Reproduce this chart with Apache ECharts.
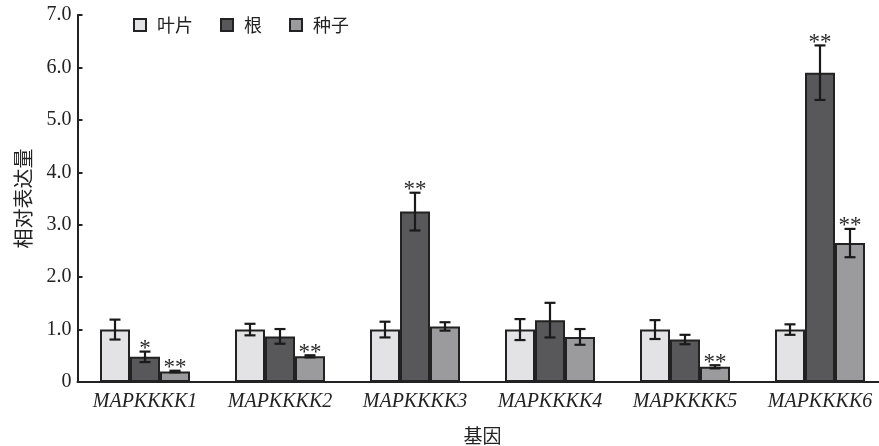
<!DOCTYPE html>
<html>
<head>
<meta charset="utf-8">
<script src="https://cdn.jsdelivr.net/npm/echarts@6/dist/echarts.min.js"></script>
<style>
  html, body { margin: 0; padding: 0; background: #fff; }
  #chart { width: 879px; height: 446px; }
</style>
</head>
<body>
<div id="chart"></div>
<script>
// Genes on the x axis
const categories = ['MAPKKKK1', 'MAPKKKK2', 'MAPKKKK3', 'MAPKKKK4', 'MAPKKKK5', 'MAPKKKK6'];
const seriesNames = ['叶片', '根', '种子'];

// Relative expression (mean) per tissue
const leafValues = [1.0, 1.0, 1.0, 1.0, 1.0, 1.0];
const rootValues = [0.48, 0.87, 3.25, 1.18, 0.81, 5.90];
const seedValues = [0.20, 0.49, 1.06, 0.86, 0.29, 2.65];

// Standard deviations
const leafErrors = [0.19, 0.11, 0.15, 0.20, 0.18, 0.10];
const rootErrors = [0.10, 0.14, 0.36, 0.33, 0.09, 0.52];
const seedErrors = [0.015, 0.02, 0.08, 0.15, 0.03, 0.27];

// Significance marks
const leafMarks = ['', '', '', '', '', ''];
const rootMarks = ['*', '', '**', '', '', '**'];
const seedMarks = ['**', '**', '', '', '**', '**'];

// Y axis tick values
const yTicks = [0, 1, 2, 3, 4, 5, 6, 7];

const colors = ['#e3e3e5', '#58585a', '#9b9b9d'];
const edge = '#222222';
const BAR_W = 30;

const chart = echarts.init(document.getElementById('chart'), null, { renderer: 'canvas' });

const groups = [
  { values: leafValues, errors: leafErrors, marks: leafMarks },
  { values: rootValues, errors: rootErrors, marks: rootMarks },
  { values: seedValues, errors: seedErrors, marks: seedMarks }
];

const barSeries = groups.map((g, i) => ({
  name: seriesNames[i],
  type: 'bar',
  data: g.values,
  barWidth: BAR_W,
  barGap: '0%',
  itemStyle: { color: colors[i], borderColor: edge, borderWidth: 2 },
  emphasis: { disabled: true },
  z: 2
}));

// Error bars and significance asterisks drawn at each bar's position
const errorSeries = groups.map((g, i) => ({
  type: 'custom',
  name: seriesNames[i] + '-err',
  data: g.values.map((v, k) => [k, v, g.errors[k]]),
  z: 5,
  silent: true,
  renderItem: function (params, api) {
    const k = api.value(0);
    const v = api.value(1);
    const e = api.value(2);
    const off = (i - 1) * BAR_W;
    const top = api.coord([k, v + e]);
    const bot = api.coord([k, v - e]);
    const x = top[0] + off;
    const cap = 5.5;
    const style = { stroke: '#1a1a1a', lineWidth: 2.2 };
    const children = [
      { type: 'line', shape: { x1: x, y1: top[1], x2: x, y2: bot[1] }, style: style },
      { type: 'line', shape: { x1: x - cap, y1: top[1], x2: x + cap, y2: top[1] }, style: style },
      { type: 'line', shape: { x1: x - cap, y1: bot[1], x2: x + cap, y2: bot[1] }, style: style }
    ];
    const mark = g.marks[k];
    if (mark) {
      children.push({
        type: 'text',
        style: {
          text: mark,
          x: x,
          y: top[1] + 9,
          align: 'center',
          verticalAlign: 'bottom',
          font: '23px "Liberation Serif", serif',
          fill: '#2a2a2a'
        }
      });
    }
    return { type: 'group', children: children };
  }
}));

chart.setOption({
  animation: false,
  backgroundColor: '#ffffff',
  legend: {
    data: seriesNames,
    left: 128,
    top: 11,
    icon: 'rect',
    itemWidth: 12,
    itemHeight: 12,
    itemGap: 27,
    itemStyle: { borderColor: edge, borderWidth: 2 },
    textStyle: { fontFamily: '"Noto Sans CJK SC"', fontSize: 18, color: '#222', padding: [0, 0, 0, 6] }
  },
  // the category band runs slightly past the right edge of the canvas
  grid: { left: 77.5, top: 15, right: -8.5, bottom: 64, containLabel: false, outerBoundsMode: 'none' },
  xAxis: {
    type: 'category',
    data: categories,
    name: '基因',
    nameLocation: 'middle',
    nameGap: 44,
    nameTextStyle: { fontFamily: '"Noto Sans CJK SC"', fontSize: 19, color: '#222' },
    axisLine: { lineStyle: { color: edge, width: 2 } },
    axisTick: { show: false },
    axisLabel: {
      interval: 0,
      margin: 10,
      fontFamily: '"Liberation Serif", serif',
      fontStyle: 'italic',
      fontSize: 20,
      color: '#222'
    },
    splitLine: { show: false }
  },
  yAxis: {
    type: 'value',
    min: yTicks[0],
    max: yTicks[yTicks.length - 1],
    interval: 1,
    name: '相对表达量',
    nameLocation: 'middle',
    nameGap: 44,
    nameTextStyle: { fontFamily: '"Noto Sans CJK SC"', fontSize: 20, color: '#222' },
    axisLine: { show: true, lineStyle: { color: edge, width: 2 } },
    axisTick: { show: true, inside: true, length: 5, lineStyle: { color: edge, width: 2 } },
    axisLabel: {
      margin: 6,
      fontFamily: '"Liberation Serif", serif',
      fontSize: 20,
      color: '#222',
      formatter: v => (v === 0 ? '0' : v.toFixed(1))
    },
    splitLine: { show: false }
  },
  series: barSeries.concat(errorSeries)
});
</script>
</body>
</html>
